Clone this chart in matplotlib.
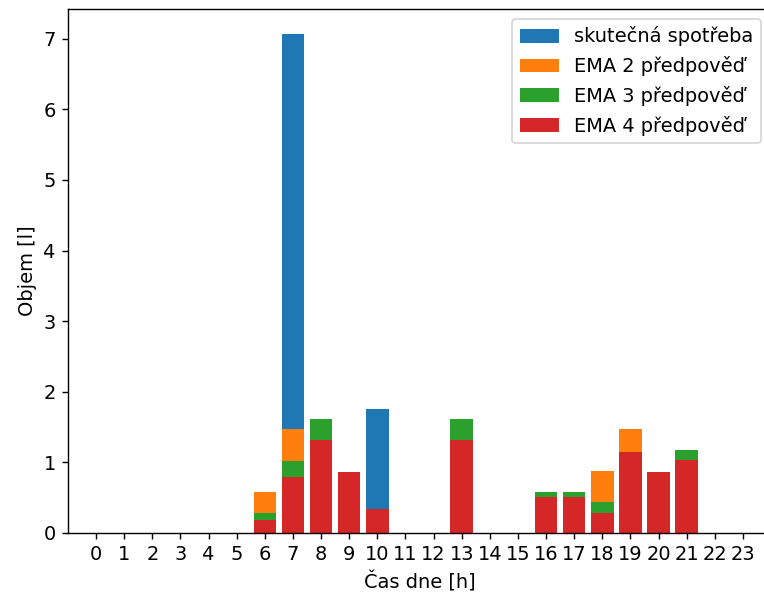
import matplotlib
matplotlib.use("Agg")
import matplotlib.pyplot as plt
import numpy as np

hours = list(range(24))
actual = [0, 0, 0, 0, 0, 0, 0, 7.06, 0, 0, 1.76, 0, 0, 0, 0, 0, 0, 0, 0, 0, 0, 0, 0, 0]
ema2 = [0, 0, 0, 0, 0, 0, 0.585, 1.47, 1.31, 0.865, 0.34, 0, 0, 1.31, 0, 0, 0.515, 0.515, 0.88, 1.47, 0.865, 1.04, 0, 0]
ema3 = [0, 0, 0, 0, 0, 0, 0.29, 1.025, 1.61, 0.865, 0.34, 0, 0, 1.61, 0, 0, 0.585, 0.585, 0.435, 1.15, 0.865, 1.175, 0, 0]
ema4 = [0, 0, 0, 0, 0, 0, 0.185, 0.79, 1.31, 0.865, 0.34, 0, 0, 1.31, 0, 0, 0.515, 0.515, 0.283, 1.15, 0.865, 1.04, 0, 0]
labels = ["skutečná spotřeba", "EMA 2 předpověď", "EMA 3 předpověď", "EMA 4 předpověď"]

plt.rcParams["font.size"] = 11.2
dpi = 125
fig = plt.figure(figsize=(764 / dpi, 595 / dpi), dpi=dpi)
ax = fig.add_axes([68 / 764, 62 / 595, (771 - 68) / 764, (533 - 9) / 595])
for vals, lab, col in zip([actual, ema2, ema3, ema4], labels,
                          ["#1f77b4", "#ff7f0e", "#2ca02c", "#d62728"]):
    ax.bar(hours, vals, width=0.8, color=col, label=lab)
ax.set_xticks(hours)
ax.set_xlim(-1, 24)
ax.set_ylim(0, 7.42)
ax.set_xlabel("Čas dne [h]")
ax.set_ylabel("Objem [l]")
ax.spines["right"].set_visible(False)
ax.legend(loc="upper right")
fig.savefig("out.png", dpi=dpi)
